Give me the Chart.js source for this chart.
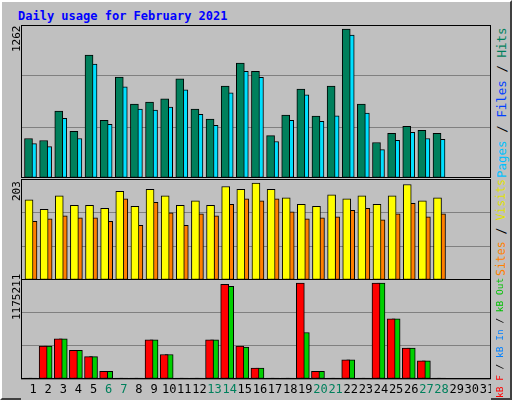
<!DOCTYPE html>
<html><head><meta charset="utf-8">
<script src="https://cdn.jsdelivr.net/npm/chart.js@4/dist/chart.umd.min.js"></script>
<style>
body{margin:0;background:#c0c0c0}
#w{position:relative;width:508px;height:396px;background:#c0c0c0;border:2px solid;border-color:#fff #404040 #404040 #fff;font-family:"DejaVu Sans Mono",monospace}
canvas{position:absolute}
.t{position:absolute;white-space:nowrap;transform-origin:0 0;transform:rotate(-90deg);font-size:11px}
</style></head><body>
<div id="w">
<div style="position:absolute;left:16px;top:7px;color:#0000ff;font-weight:bold;font-size:12px">Daily usage for February 2021</div>
<canvas id="c1"></canvas><canvas id="c2"></canvas><canvas id="c3"></canvas>
<div class="t" style="left:8px;top:50px">1262</div>
<div class="t" style="left:8px;top:199px">203</div>
<div class="t" style="left:8px;top:318px">1175211</div>
<div class="t" style="left:492px;top:176px;font-size:12.5px"><span style="color:#00c0ff">Pages</span> / <span style="color:#0040ff">Files</span> / <span style="color:#00805c">Hits</span></div>
<div class="t" style="left:492px;top:274px;font-size:11.5px"><span style="color:#ff8000">Sites</span> / <span style="color:#e0e000">Visits</span></div>
<div class="t" style="left:492px;top:396px;font-size:9.5px"><span style="color:#ff0000">kB F</span> / <span style="color:#0080ff">kB In</span> / <span style="color:#00c000">kB Out</span></div>
</div>
<script>
const days=[1,2,3,4,5,6,7,8,9,10,11,12,13,14,15,16,17,18,19,20,21,22,23,24,25,26,27,28];
const dayLabels=[...Array(31)].map((_,i)=>String(i+1));
const weekend=[6,7,13,14,20,21,27,28];
const hits=[326,309,551,384,1014,476,833,610,627,652,819,568,485,758,947,880,350,518,733,510,758,1229,610,293,368,427,393,368];
const files=[284,259,493,326,939,443,752,568,560,585,727,526,435,702,880,830,301,476,686,468,512,1178,535,234,310,376,326,318];
const pages=[50,59,92,50,67,59,284,67,67,84,167,75,59,84,67,59,50,42,50,50,59,568,59,59,59,59,42,50];
const visits=[161,142,169,150,150,144,178,148,182,169,150,159,150,188,182,195,182,165,152,148,171,163,169,152,169,192,159,165];
const sites=[118,123,129,125,125,118,163,110,156,135,110,133,129,152,163,159,163,137,123,125,127,140,144,121,133,154,127,133];
const kbF=[0,386000,473000,337000,263000,90000,0,0,460000,288000,0,0,460000,1113000,386000,127000,0,0,1126000,90000,0,226000,0,1126000,707000,362000,214000,0];
const kbOut=[0,386000,473000,337000,263000,90000,0,0,460000,288000,0,0,460000,1089000,374000,127000,0,0,546000,90000,0,226000,0,1126000,707000,362000,214000,0];
const maxTop=1262,maxMid=203,maxBot=1175211;

const pxPerDay=15.13, W=470;
const xmin=1-12/pxPerDay, xmax=xmin+W/pxPerDay;
function pts(arr,off){return arr.map((v,i)=>({x:days[i]+off/pxPerDay,y:v}));}
function ds(arr,off,color,th,extra){return Object.assign({data:pts(arr,off),backgroundColor:color,borderColor:'#000',borderWidth:1,borderSkipped:false,barThickness:th,grouped:false},extra||{});}
const frame={id:'frame',afterDraw(c){const a=c.chartArea,x=c.ctx;x.save();x.strokeStyle='#000';x.lineWidth=1;x.strokeRect(a.left+0.5,a.top+0.5,a.right-a.left-1,a.bottom-a.top-1);x.restore();},
 beforeDraw(c){const x=c.ctx;x.save();x.fillStyle='#c0c0c0';x.fillRect(0,0,c.width,c.height);x.restore();}};
const labelsPlug={id:'lbl',afterDraw(c){const x=c.ctx,s=c.scales.x;x.save();x.font='12px "DejaVu Sans Mono"';x.textAlign='center';x.textBaseline='top';
 dayLabels.forEach((t,i)=>{x.fillStyle=weekend.includes(i+1)?'#00805c':'#000';x.fillText(t,s.getPixelForValue(i+1),c.chartArea.bottom+5);});x.restore();}};
function make(id,left,top,h,max,datasets,pb,extraPlug){
 const cv=document.getElementById(id);cv.style.left=left+'px';cv.style.top=top+'px';
 cv.width=W;cv.height=h+pb;cv.style.width=W+'px';cv.style.height=(h+pb)+'px';
 return new Chart(cv,{type:'bar',data:{datasets},options:{responsive:false,animation:false,devicePixelRatio:1,
  layout:{padding:{left:0,right:0,top:0,bottom:pb}},
  plugins:{legend:{display:false},tooltip:{enabled:false}},
  scales:{x:{type:'linear',min:xmin,max:xmax,offset:false,display:false},
   y:{min:0,max:max,ticks:{display:false,stepSize:max/3},border:{display:false},grid:{color:'#808080',drawTicks:false,lineWidth:1}}}},
  plugins:[frame].concat(extraPlug||[])});
}
make('c1',19,23,153,maxTop,[ds(hits,-4.5,'#00805c',8),ds(files,-0.5,'#00e0ff',8),ds(pages,-4.8,'#0040ff',3,{borderWidth:0.5})],0);
make('c2',19,177,101,maxMid,[ds(visits,-4,'#ffff00',8),ds(sites,0,'#ff8000',8)],0);
make('c3',19,277,100,maxBot,[ds(kbF,-5,'#ff0000',8,{minBarLength:1}),ds(kbOut,0,'#00d000',8,{minBarLength:1})],22,[labelsPlug]);
</script></body></html>
